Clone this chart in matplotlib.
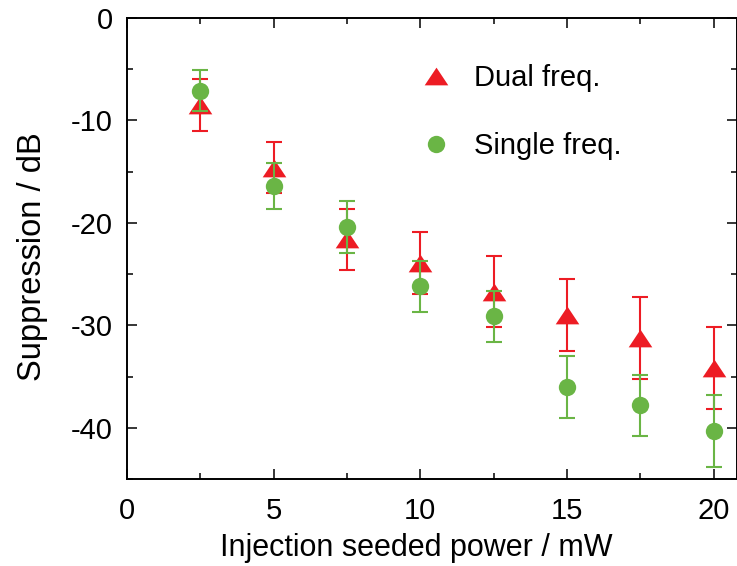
import matplotlib
matplotlib.use("Agg")
import matplotlib.pyplot as plt
from matplotlib.lines import Line2D
from matplotlib.ticker import MultipleLocator

plt.rcParams['font.family'] = ['Liberation Sans', 'DejaVu Sans']
plt.rcParams['axes.unicode_minus'] = False

power = [2.5, 5, 7.5, 10, 12.5, 15, 17.5, 20]
dual = [-8.5, -14.6, -21.6, -23.9, -26.7, -29.0, -31.2, -34.2]
dual_err = [2.5, 2.5, 3.0, 3.0, 3.5, 3.5, 4.0, 4.0]
single = [-7.1, -16.4, -20.4, -26.2, -29.1, -36.0, -37.8, -40.3]
single_err = [2.0, 2.2, 2.5, 2.5, 2.5, 3.0, 3.0, 3.5]

red = '#ED1C24'
green = '#6AB545'
tri = [(-1, -0.75), (1, -0.75), (0, 0.75)]

fig = plt.figure(figsize=(7.37, 5.66), dpi=100)
ax = fig.add_axes([0.1723, 0.1537, 0.8277, 0.8145])

ax.errorbar(power, dual, yerr=dual_err, fmt='none', ecolor=red,
            elinewidth=1.5, capsize=6, capthick=1.5, zorder=2)
ax.plot(power, dual, linestyle='none', marker=tri, markersize=17,
        color=red, markeredgewidth=0, zorder=3)
ax.errorbar(power, single, yerr=single_err, fmt='none', ecolor=green,
            elinewidth=1.5, capsize=6, capthick=1.5, zorder=4)
ax.plot(power, single, linestyle='none', marker='o', markersize=12.5,
        color=green, markeredgewidth=0, zorder=5)

ax.set_xlim(0, 20.8)
ax.set_ylim(-45, 0)
ax.xaxis.set_major_locator(MultipleLocator(5))
ax.xaxis.set_minor_locator(MultipleLocator(2.5))
ax.yaxis.set_major_locator(MultipleLocator(10))
ax.yaxis.set_minor_locator(MultipleLocator(5))
ax.tick_params(which='both', direction='in', top=True, right=True,
               width=1.1, labelsize=21)
ax.tick_params(axis='x', pad=13)
ax.tick_params(axis='y', pad=10)
ax.tick_params(which='major', length=7)
ax.tick_params(which='minor', length=4)
for s in ax.spines.values():
    s.set_linewidth(1.4)

ax.set_xlabel('Injection seeded power / mW', fontsize=22)
ax.xaxis.set_label_coords(0.475, -0.117)
ax.set_ylabel('Suppression / dB', fontsize=23.5)
ax.yaxis.set_label_coords(-0.13, 0.482)

handles = [
    Line2D([], [], linestyle='none', marker=tri, markersize=17,
           color=red, markeredgewidth=0),
    Line2D([], [], linestyle='none', marker='o', markersize=12.5,
           color=green, markeredgewidth=0),
]
ax.legend(handles, ['Dual freq.', 'Single freq.'], loc='upper left',
          bbox_to_anchor=(0.44, 0.957), frameon=False, fontsize=21,
          labelspacing=1.38, handletextpad=0.8, handlelength=1.0)

fig.savefig('out.png', dpi=100)
